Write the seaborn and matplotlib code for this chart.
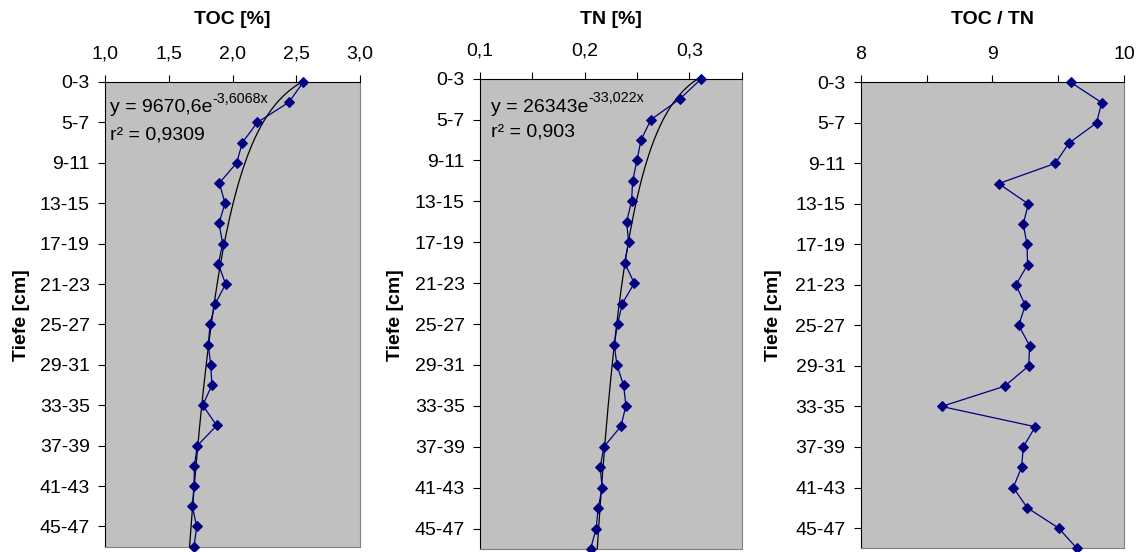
import numpy as np
import pandas as pd
import matplotlib
matplotlib.use("Agg")
import matplotlib.pyplot as plt
import seaborn as sns

# ---------------- data ----------------
depth_labels = ["0-3", "3-5", "5-7", "7-9", "9-11", "11-13", "13-15", "15-17",
                "17-19", "19-21", "21-23", "23-25", "25-27", "27-29", "29-31",
                "31-33", "33-35", "35-37", "37-39", "39-41", "41-43", "43-45",
                "45-47", "47-49"]

toc = [2.555, 2.443, 2.195, 2.077, 2.033, 1.897, 1.941, 1.894, 1.923, 1.889,
       1.946, 1.863, 1.824, 1.810, 1.829, 1.839, 1.766, 1.876, 1.724, 1.701,
       1.698, 1.685, 1.719, 1.698]

tn = [0.3115, 0.2907, 0.2633, 0.2538, 0.2499, 0.2458, 0.2448, 0.2400, 0.2420,
      0.2381, 0.2474, 0.2359, 0.2314, 0.2282, 0.2308, 0.2372, 0.2394, 0.2346,
      0.2184, 0.2148, 0.2167, 0.2129, 0.2110, 0.2056]

toc_tn = [9.595, 9.830, 9.792, 9.582, 9.478, 9.048, 9.273, 9.235, 9.263, 9.268,
          9.179, 9.250, 9.200, 9.283, 9.276, 9.093, 8.615, 9.326, 9.235, 9.222,
          9.159, 9.265, 9.503, 9.642]

# exponential trend lines (y = a * exp(-b x), y = sample number)
toc_fit_a, toc_fit_b = 9670.6, 3.6068
tn_fit_a, tn_fit_b = 26343.0, 33.022

toc_ticks = [1.0, 1.5, 2.0, 2.5, 3.0]
toc_ticklabels = ["1,0", "1,5", "2,0", "2,5", "3,0"]
tn_ticks = [0.10, 0.15, 0.20, 0.25, 0.30, 0.35]
tn_ticklabels = ["0,1", "", "0,2", "", "0,3", ""]
ratio_ticks = [8.0, 8.5, 9.0, 9.5, 10.0]
ratio_ticklabels = ["8", "", "9", "", "10"]

titles = ["TOC [%]", "TN [%]", "TOC / TN"]
ylabel = "Tiefe [cm]"
eq_toc = ("y = 9670,6e", "-3,6068x", "r\u00b2 = 0,9309")
eq_tn = ("y = 26343e", "-33,022x", "r\u00b2 = 0,903")

# ---------------- style ----------------
sns.set_theme(style="white")
plt.rcParams["font.family"] = ["Liberation Sans", "DejaVu Sans"]

W, H = 1143, 552
fig = plt.figure(figsize=(W / 100, H / 100), dpi=100)
fig.patch.set_facecolor("white")


def ax_rect(left, right, top, bottom):
    return [left / W, 1 - bottom / H, (right - left) / W, (bottom - top) / H]


rects = [ax_rect(105, 360, 82, 546.7),
         ax_rect(480, 741.7, 78.7, 549),
         ax_rect(860.7, 1124, 82.3, 548.3)]

navy = "#000080"
idx = np.arange(len(depth_labels))
series = [toc, tn, toc_tn]
xlims = [(1.0, 3.0), (0.10, 0.35), (8.0, 10.0)]
xticks = [toc_ticks, tn_ticks, ratio_ticks]
xticklabels = [toc_ticklabels, tn_ticklabels, ratio_ticklabels]
fits = [(toc_fit_a, toc_fit_b), (tn_fit_a, tn_fit_b), None]
ylabel_x = [22, 395, 774]
FS = 14

axes = []
for k in range(3):
    ax = fig.add_axes(rects[k])
    axes.append(ax)
    ax.set_facecolor("#C0C0C0")

    df = pd.DataFrame({"val": series[k], "pos": idx})
    sns.lineplot(data=df, x="val", y="pos", sort=False, estimator=None, ax=ax,
                 color=navy, linewidth=0.9, marker="D", markersize=4.8,
                 markeredgecolor=navy, markerfacecolor=navy, clip_on=False,
                 zorder=4)

    if fits[k] is not None:
        a, b = fits[k]
        yy = np.linspace(0, len(depth_labels) - 1, 300)
        xx = np.log(a / (yy + 1)) / b
        fdf = pd.DataFrame({"val": xx, "pos": yy})
        sns.lineplot(data=fdf, x="val", y="pos", sort=False, estimator=None,
                     ax=ax, color="black", linewidth=0.9, clip_on=False,
                     zorder=3)

    ax.set_xlim(*xlims[k])
    ax.set_ylim(len(depth_labels) - 1, 0)
    ax.set_xlabel("")
    ax.set_ylabel("")

    ax.xaxis.tick_top()
    ax.set_xticks(xticks[k])
    ax.set_xticklabels(xticklabels[k])
    ax.set_yticks(idx[::2])
    ax.set_yticklabels(depth_labels[::2])
    ax.tick_params(axis="x", which="both", direction="out", length=5,
                   width=0.8, pad=9, labelsize=FS, top=True, bottom=False,
                   labeltop=True, labelbottom=False, colors="black")
    ax.tick_params(axis="y", which="both", direction="out", length=5,
                   width=0.8, pad=6, labelsize=FS, left=True, right=False,
                   colors="black")
    ax.grid(False)

    for side in ["top", "left"]:
        ax.spines[side].set_color("black")
        ax.spines[side].set_linewidth(0.8)
        ax.spines[side].set_visible(True)
    for side in ["right", "bottom"]:
        ax.spines[side].set_color("#808080")
        ax.spines[side].set_linewidth(0.8)
        ax.spines[side].set_visible(True)

    cx = rects[k][0] + rects[k][2] / 2
    fig.text(cx, 1 - 19 / H, titles[k], ha="center", va="center",
             fontsize=FS, fontweight="bold", color="black")
    fig.text(ylabel_x[k] / W, 1 - 315 / H, ylabel, ha="center", va="center",
             rotation=90, fontsize=FS, fontweight="bold", color="black")


def equation(ax, x_px, y_px, r_y_px, parts):
    base, sup, r2 = parts
    t = fig.text(x_px / W, 1 - y_px / H, base, ha="left", va="center",
                 fontsize=FS, color="black", zorder=6)
    ax.annotate(sup, xy=(1.0, 0.62), xycoords=t, ha="left", va="bottom",
                fontsize=10.3, color="black", annotation_clip=False)
    fig.text(x_px / W, 1 - r_y_px / H, r2, ha="left", va="center",
             fontsize=FS, color="black", zorder=6)


equation(axes[0], 110, 108, 135, eq_toc)
equation(axes[1], 491, 107, 132, eq_tn)

fig.savefig("out.png", dpi=100, facecolor="white")
